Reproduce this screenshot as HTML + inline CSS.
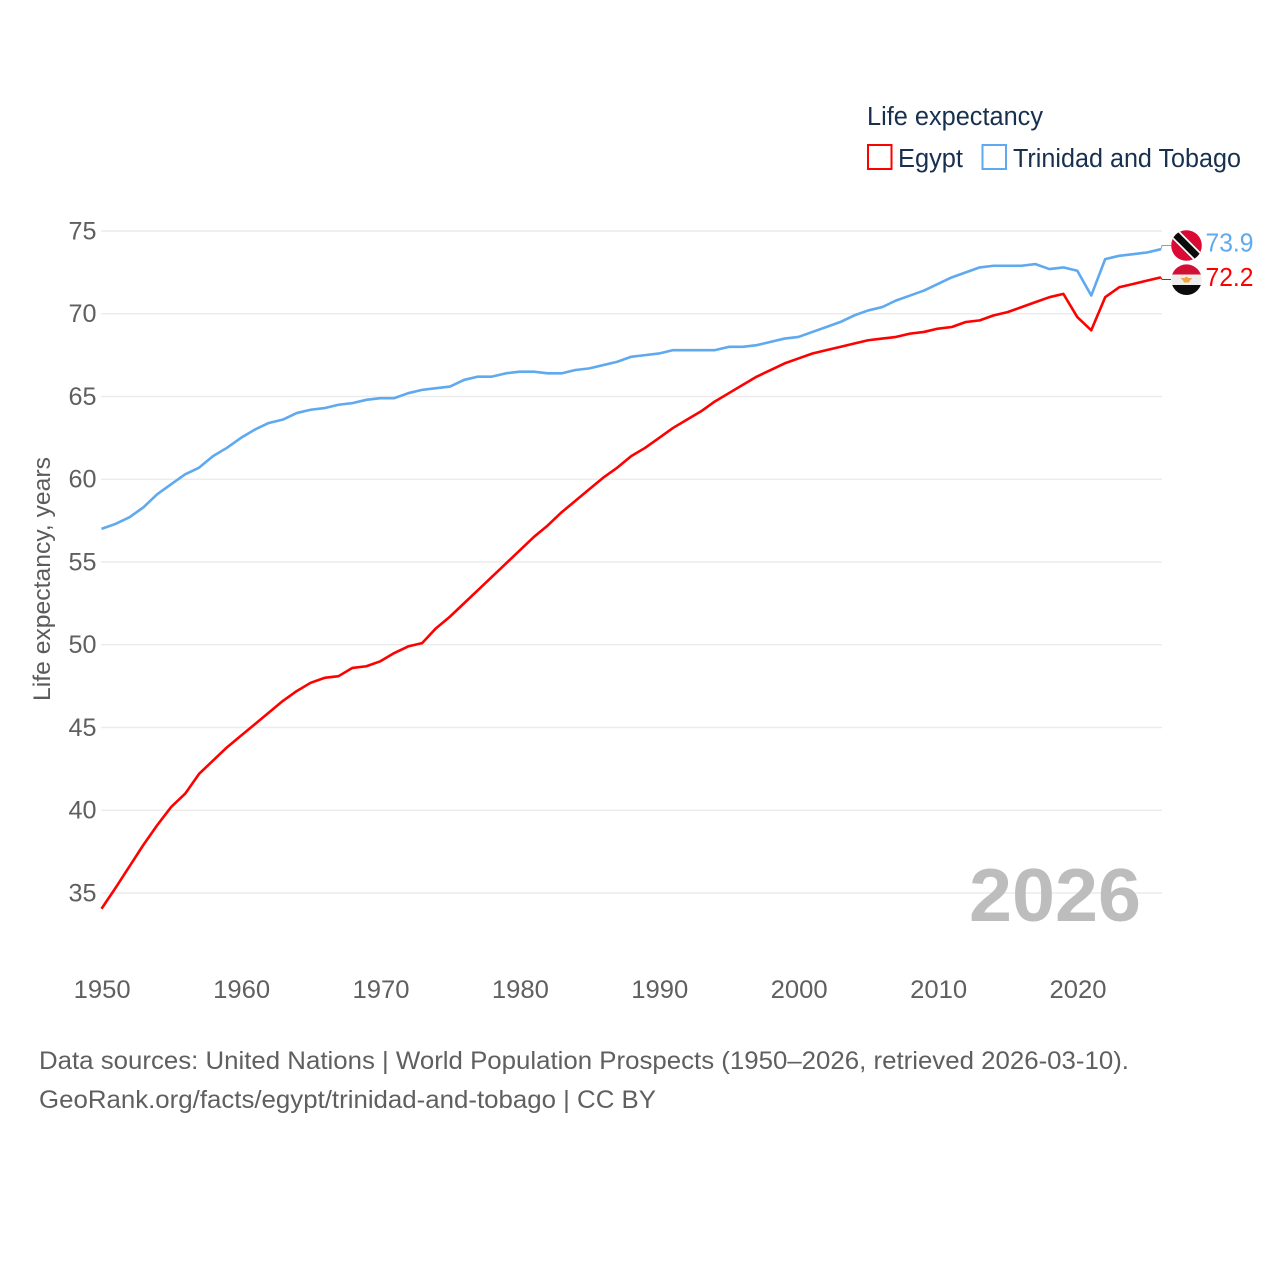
<!DOCTYPE html>
<html lang="en">
<head>
<meta charset="utf-8">
<title>Life expectancy: Egypt and Trinidad and Tobago</title>
<style>
html,body{margin:0;padding:0;background:#fff;}
svg{display:block;font-family:"Liberation Sans",sans-serif;}
</style>
</head>
<body>
<svg id="chart" xmlns="http://www.w3.org/2000/svg" width="1280" height="1280" viewBox="0 0 1280 1280">
  <defs>
    <clipPath id="clip-tt"><circle cx="1186.5" cy="245.5" r="15.3"/></clipPath>
    <clipPath id="clip-eg"><circle cx="1186.5" cy="279.7" r="15.3"/></clipPath>
  </defs>
  <rect x="0" y="0" width="1280" height="1280" fill="#fff"/>
  <g id="grid"></g>
  <g id="yticks"></g>
  <g id="xticks"></g>
  <text transform="translate(50,701) rotate(-90)" font-size="24.5" fill="#5b5b5b" textLength="244" lengthAdjust="spacingAndGlyphs">Life expectancy, years</text>

  <text x="969" y="921" font-size="75" font-weight="700" fill="#bdbdbd" textLength="172" lengthAdjust="spacingAndGlyphs">2026</text>

  <g id="series"></g>

  <g clip-path="url(#clip-tt)">
    <rect x="1170" y="229" width="33" height="33" fill="#da0a35"/>
    <line x1="1168.5" y1="227.5" x2="1204.5" y2="263.5" stroke="#fff" stroke-width="10.5"/>
    <line x1="1168.5" y1="227.5" x2="1204.5" y2="263.5" stroke="#0b0b0b" stroke-width="7"/>
  </g>
  <g clip-path="url(#clip-eg)">
    <rect x="1170" y="264" width="33" height="10.5" fill="#d20f34"/>
    <rect x="1170" y="274.5" width="33" height="10.5" fill="#eeeeee"/>
    <rect x="1170" y="285" width="33" height="11" fill="#0b0b0b"/>
    <path d="M1180.5 278 L1184.5 278 L1186.5 276.5 L1188.5 278 L1192.5 278 L1190 280.5 L1189 282.5 L1184 282.5 L1183 280.5 Z" fill="#f0a63c"/>
  </g>
  <g id="endlabels"></g>

  <g>
    <text x="867" y="125" font-size="25.5" fill="#18304f" textLength="176" lengthAdjust="spacingAndGlyphs">Life expectancy</text>
    <g>
      <rect x="868" y="145" width="23.5" height="24" fill="#fff" stroke="#ff0000" stroke-width="2"/>
      <text x="898" y="167" font-size="25.5" fill="#18304f" textLength="65" lengthAdjust="spacingAndGlyphs">Egypt</text>
    </g>
    <g>
      <rect x="982.5" y="145" width="23.5" height="24" fill="#fff" stroke="#5ea9f0" stroke-width="2"/>
      <text x="1013" y="167" font-size="25.5" fill="#18304f" textLength="228" lengthAdjust="spacingAndGlyphs">Trinidad and Tobago</text>
    </g>
  </g>

  <text x="39" y="1069" font-size="25" fill="#5f5f5f" textLength="1090" lengthAdjust="spacingAndGlyphs">Data sources: United Nations | World Population Prospects (1950–2026, retrieved 2026-03-10).</text>
  <text x="39" y="1108" font-size="25" fill="#5f5f5f" textLength="617" lengthAdjust="spacingAndGlyphs">GeoRank.org/facts/egypt/trinidad-and-tobago | CC BY</text>
</svg>
<script>
const startYear = 1950;
const xTickYears = [1950, 1960, 1970, 1980, 1990, 2000, 2010, 2020];
const yTickValues = [35, 40, 45, 50, 55, 60, 65, 70, 75];
const egyptValues = [
  34.05, 35.3, 36.6, 37.9, 39.1, 40.2, 41.0, 42.2, 43.0, 43.8,
  44.5, 45.2, 45.9, 46.6, 47.2, 47.7, 48.0, 48.1, 48.6, 48.7,
  49.0, 49.5, 49.9, 50.1, 51.0, 51.7, 52.5, 53.3, 54.1, 54.9,
  55.7, 56.5, 57.2, 58.0, 58.7, 59.4, 60.1, 60.7, 61.4, 61.9,
  62.5, 63.1, 63.6, 64.1, 64.7, 65.2, 65.7, 66.2, 66.6, 67.0,
  67.3, 67.6, 67.8, 68.0, 68.2, 68.4, 68.5, 68.6, 68.8, 68.9,
  69.1, 69.2, 69.5, 69.6, 69.9, 70.1, 70.4, 70.7, 71.0, 71.2,
  69.8, 69.0, 71.0, 71.6, 71.8, 72.0, 72.2
];
const trinidadValues = [
  57.0, 57.3, 57.7, 58.3, 59.1, 59.7, 60.3, 60.7, 61.4, 61.9,
  62.5, 63.0, 63.4, 63.6, 64.0, 64.2, 64.3, 64.5, 64.6, 64.8,
  64.9, 64.9, 65.2, 65.4, 65.5, 65.6, 66.0, 66.2, 66.2, 66.4,
  66.5, 66.5, 66.4, 66.4, 66.6, 66.7, 66.9, 67.1, 67.4, 67.5,
  67.6, 67.8, 67.8, 67.8, 67.8, 68.0, 68.0, 68.1, 68.3, 68.5,
  68.6, 68.9, 69.2, 69.5, 69.9, 70.2, 70.4, 70.8, 71.1, 71.4,
  71.8, 72.2, 72.5, 72.8, 72.9, 72.9, 72.9, 73.0, 72.7, 72.8,
  72.6, 71.1, 73.3, 73.5, 73.6, 73.7, 73.9
];

const NS = 'http://www.w3.org/2000/svg';
function xScale(year) { return 101.5 + (year - 1950) * 13.94; }
function yScale(v) { return 893 - (v - 35) * 16.55; }
function make(tag, attrs, parent, text) {
  const el = document.createElementNS(NS, tag);
  for (const k in attrs) el.setAttribute(k, attrs[k]);
  if (text !== undefined) el.textContent = text;
  parent.appendChild(el);
  return el;
}

const grid = document.getElementById('grid');
const yticks = document.getElementById('yticks');
const xticks = document.getElementById('xticks');
const seriesGroup = document.getElementById('series');
const endLabels = document.getElementById('endlabels');

yTickValues.forEach(function (v) {
  const line = make('line', {x1: 101, x2: 1162, y1: yScale(v), y2: yScale(v), stroke: '#ececec', 'stroke-width': 1.5}, grid);
  
  
  const label = make('text', {x: 96.5, y: yScale(v) + 8.3, 'text-anchor': 'end', 'font-size': 25, fill: '#5f5f5f', textLength: 28, lengthAdjust: 'spacingAndGlyphs'}, yticks, String(v));
  
  
});

xTickYears.forEach(function (yr) {
  const label = make('text', {x: xScale(yr) + 0.7, y: 998, 'text-anchor': 'middle', 'font-size': 25, fill: '#5f5f5f', textLength: 57, lengthAdjust: 'spacingAndGlyphs'}, xticks, String(yr));
  
  
});

function linePath(values) {
  return values.map(function (v, i) {
    return (i ? 'L' : 'M') + xScale(startYear + i).toFixed(2) + ' ' + yScale(v).toFixed(2);
  }).join(' ');
}

const trinidadLine = make('path', {d: linePath(trinidadValues), fill: 'none', stroke: '#5ea9f0', 'stroke-width': 2.6, 'stroke-linejoin': 'round'}, seriesGroup);


const egyptLine = make('path', {d: linePath(egyptValues), fill: 'none', stroke: '#ff0000', 'stroke-width': 2.6, 'stroke-linejoin': 'round'}, seriesGroup);



const lastYear = startYear + egyptValues.length - 1;
const ttLast = trinidadValues[trinidadValues.length - 1];
const egLast = egyptValues[egyptValues.length - 1];

const ttConn = make('path', {d: 'M' + xScale(lastYear) + ' ' + yScale(ttLast) + ' L1162 245.5 L1171 245.5', fill: 'none', stroke: '#5ea9f0', 'stroke-width': 1}, endLabels);


const egConn = make('path', {d: 'M' + xScale(lastYear) + ' ' + yScale(egLast) + ' L1162 279.5 L1171 279.5', fill: 'none', stroke: '#ff0000', 'stroke-width': 1}, endLabels);



const ttValue = make('text', {x: 1205.5, y: 251.5, 'font-size': 25.5, fill: '#5ea9f0', textLength: 48, lengthAdjust: 'spacingAndGlyphs'}, endLabels, ttLast.toFixed(1));


const egValue = make('text', {x: 1205.5, y: 286, 'font-size': 25.5, fill: '#ff0000', textLength: 48, lengthAdjust: 'spacingAndGlyphs'}, endLabels, egLast.toFixed(1));


</script>
</body>
</html>
